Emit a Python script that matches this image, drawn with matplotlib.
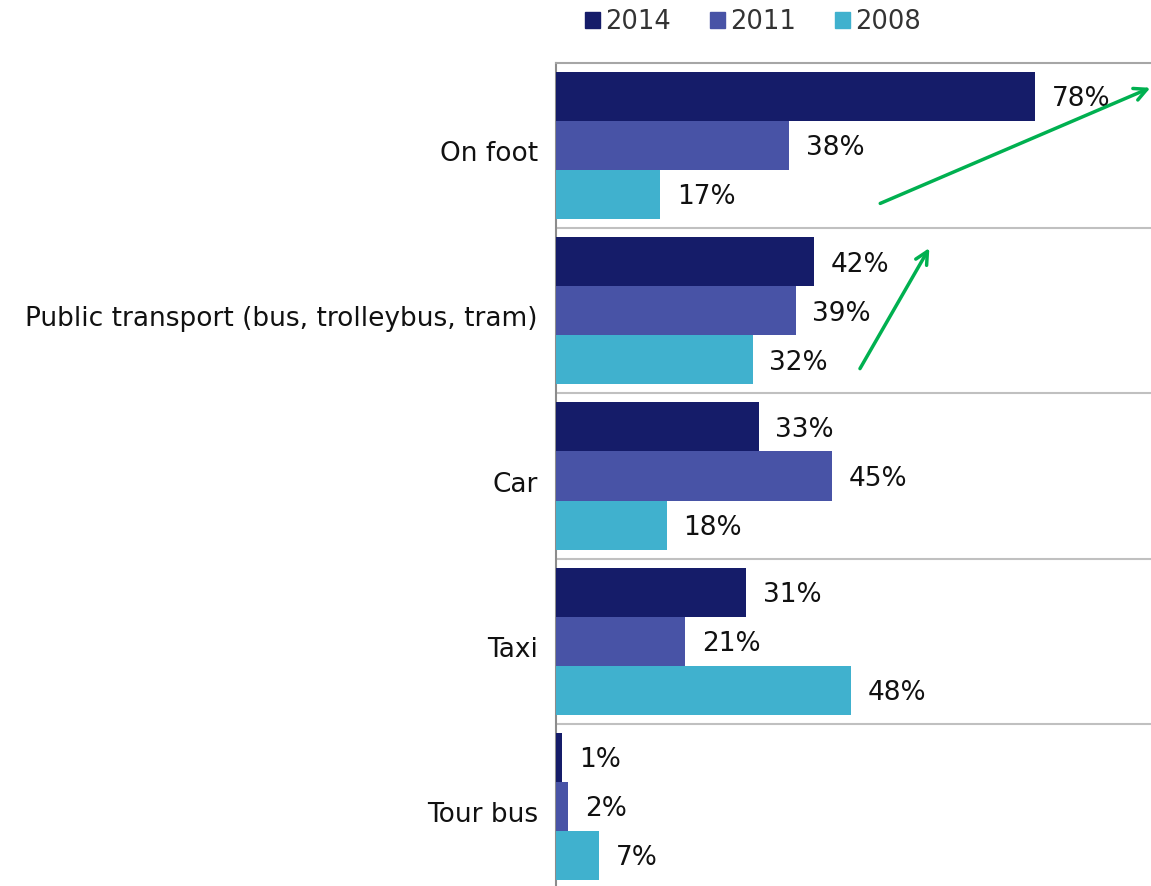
import matplotlib.pyplot as plt
import matplotlib.transforms as mtransforms
from matplotlib.patches import Patch
import numpy as np

# -----------------------
# Data
# -----------------------
categories = ["On foot", "Public transport (bus, trolleybus, tram)", "Car", "Taxi", "Tour bus"]
years = ["2014", "2011", "2008"]
share_2014 = [78, 42, 33, 31, 1]
share_2011 = [38, 39, 45, 21, 2]
share_2008 = [17, 32, 18, 48, 7]

colors = ["#151C69", "#4853A6", "#40B1CE"]
series = [share_2014, share_2011, share_2008]

# -----------------------
# Plot
# -----------------------
plt.rcParams["font.family"] = "DejaVu Sans"
fig = plt.figure(figsize=(11.51, 8.86), dpi=100)
ax = fig.add_axes([0.4831, -0.0034, 0.5169, 0.9323])

y = np.arange(len(categories))
bar_h = 0.297
offsets = [-bar_h, 0, bar_h]

for vals, off, col in zip(series, offsets, colors):
    bars = ax.barh(y + off, vals, height=bar_h, color=col, zorder=3)
    for b, v in zip(bars, vals):
        ax.annotate(f"{v}%", (b.get_width(), b.get_y() + b.get_height() / 2),
                    xytext=(12, -2), textcoords="offset points",
                    va="center", ha="left", fontsize=19, color="#111111")

ax.set_xlim(0, 96.9)
ax.set_ylim(len(categories) - 0.5, -0.5)
ax.set_yticks(y)
ax.set_yticklabels(categories, fontsize=19, color="#111111")
ax.tick_params(axis="y", length=0, pad=13)
ax.set_xticks([])
# nudge category labels down a little
shift = mtransforms.ScaledTranslation(0, -4 / 72, fig.dpi_scale_trans)
for lbl in ax.get_yticklabels():
    lbl.set_transform(lbl.get_transform() + shift)

# separators between categories
for sep in np.arange(0.5, len(categories) - 0.5, 1):
    ax.axhline(sep, color="#C0C0C0", lw=1.5, zorder=1)

for side in ["right", "bottom"]:
    ax.spines[side].set_visible(False)
ax.spines["top"].set_color("#A6A6A6")
ax.spines["top"].set_linewidth(1.5)
ax.spines["left"].set_color("#8C8C8C")
ax.spines["left"].set_linewidth(1.5)

# green trend arrows
arrow_kw = dict(arrowstyle="->,head_length=0.9,head_width=0.45", color="#00B050", lw=2.5,
                shrinkA=0, shrinkB=0)
ax.annotate("", xy=(96.8, -0.35), xytext=(52.8, 0.35), arrowprops=arrow_kw, annotation_clip=False)
ax.annotate("", xy=(60.8, 0.62), xytext=(49.5, 1.35), arrowprops=arrow_kw)

handles = [Patch(color=c, label=l) for c, l in zip(colors, years)]
fig.legend(handles=handles, loc="center", bbox_to_anchor=(753 / 1151, 1 - 22 / 886),
           ncol=3, frameon=False, fontsize=18.5, handlelength=0.6, handleheight=0.6,
           handletextpad=0.2, columnspacing=1.5, labelcolor="#333333")

fig.savefig("out.png", dpi=100)
